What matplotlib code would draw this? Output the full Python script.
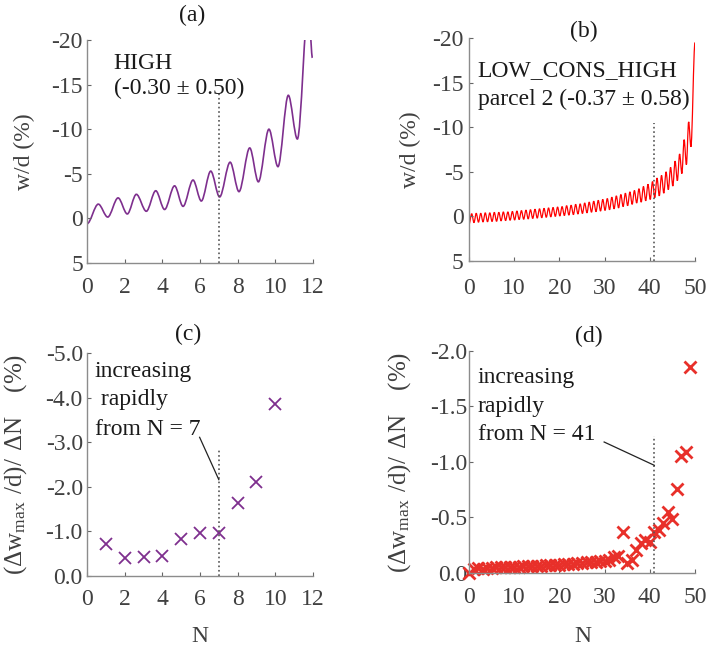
"""
Dent depth history and growth rate per cycle for two loading sequences
"""
import numpy as np
import matplotlib.pyplot as plt
from matplotlib.path import Path
from matplotlib.patches import PathPatch
from matplotlib.ticker import FormatStrFormatter, MultipleLocator

plt.rcParams['font.family'] = 'Liberation Serif'
plt.rcParams['mathtext.fontset'] = 'custom'
plt.rcParams['mathtext.rm'] = 'Liberation Serif'
plt.rcParams['axes.unicode_minus'] = False

PURPLE = '#7E2F8E'
RED = '#FF0000'
GREY = '#404040'

# (a) HIGH: extrema of w/d (%) against cycle
a_start = (0.0, 0.6)
a_peak_x = [0.6, 1.65, 2.62, 3.65, 4.65, 5.63, 6.57, 7.6, 8.64, 9.66, 10.69, 11.76]
a_peak_y = [-1.6, -2.3, -2.7, -3.1, -3.65, -4.3, -5.3, -6.3, -7.9, -10.0, -13.8, -24.0]
a_trough_x = [1.1, 2.14, 3.15, 4.12, 5.1, 6.07, 7.04, 8.07, 9.1, 10.14, 11.17]
a_trough_y = [-0.15, -0.5, -0.8, -1.0, -1.35, -1.95, -2.4, -3.0, -4.1, -5.8, -8.9]
a_end = (11.97, -18.0)

# (b) LOW_CONS_HIGH parcel 2: one peak and one trough per cycle 0..48
b_start = (0.0, 0.9)
b_peaks = [-0.3, -0.35, -0.35, -0.4, -0.4, -0.45, -0.45, -0.5, -0.5, -0.55,
           -0.6, -0.65, -0.7, -0.75, -0.8, -0.85, -0.9, -0.95, -1.0, -1.05,
           -1.1, -1.2, -1.25, -1.35, -1.4, -1.5, -1.6, -1.7, -1.8, -1.9,
           -2.0, -2.15, -2.3, -2.45, -2.6, -2.75, -2.9, -3.1, -3.35, -3.6,
           -3.9, -4.3, -4.6, -5.0, -5.5, -6.2, -7.0, -8.6, -10.6]
b_troughs = [0.7, 0.65, 0.62, 0.6, 0.57, 0.55, 0.5, 0.47, 0.43, 0.4,
             0.35, 0.32, 0.28, 0.23, 0.19, 0.15, 0.1, 0.05, 0.0, -0.05,
             -0.1, -0.15, -0.2, -0.27, -0.33, -0.4, -0.47, -0.53, -0.6, -0.67,
             -0.75, -0.85, -0.95, -1.1, -1.2, -1.35, -1.5, -1.6, -1.75, -1.9,
             -2.1, -2.3, -2.6, -3.0, -3.4, -4.0, -4.8, -5.8, -7.8]
b_end = (50.0, -19.5)

# (c) growth rate of max dent depth, HIGH
c_N = [1, 2, 3, 4, 5, 6, 7, 8, 9, 10]
c_rate = [-0.72, -0.40, -0.42, -0.46, -0.83, -0.96, -0.96, -1.63, -2.10, -3.86]

# (d) growth rate of max dent depth, LOW_CONS_HIGH parcel 2
d_N = list(range(50))
d_rate = [0.0, -0.04, -0.045, -0.04, -0.045, -0.045, -0.05, -0.05, -0.05, -0.055,
          -0.055, -0.055, -0.06, -0.06, -0.06, -0.065, -0.065, -0.07, -0.07, -0.075,
          -0.075, -0.08, -0.08, -0.085, -0.09, -0.09, -0.095, -0.10, -0.10, -0.105,
          -0.11, -0.12, -0.14, -0.15, -0.365, -0.09, -0.12, -0.21, -0.27, -0.30,
          -0.28, -0.37, -0.39, -0.45, -0.55, -0.49, -0.755, -1.05, -1.09, -1.86]


def smooth_path(xs, ys):
    # cubic segments with flat tangents at every turning point
    verts = [(xs[0], ys[0])]
    codes = [Path.MOVETO]
    for x0, y0, x1, y1 in zip(xs[:-1], ys[:-1], xs[1:], ys[1:]):
        dx = (x1 - x0) / 3.0
        verts += [(x0 + dx, y0), (x1 - dx, y1), (x1, y1)]
        codes += [Path.CURVE4] * 3
    return Path(verts, codes)


def interleave(start, px, py, tx, ty, end):
    xs, ys = [start[0]], [start[1]]
    for i in range(len(px)):
        xs.append(px[i]); ys.append(py[i])
        if i < len(tx):
            xs.append(tx[i]); ys.append(ty[i])
    xs.append(end[0]); ys.append(end[1])
    return xs, ys


def style_axes(ax, xpad, ypad):
    for side in ['top', 'right']:
        ax.spines[side].set_visible(False)
    for side in ['left', 'bottom']:
        ax.spines[side].set_color('#8c8c8c')
        ax.spines[side].set_linewidth(1.0)
    ax.tick_params(direction='in', length=3, width=0.8, color='#666666',
                   labelsize=17, labelcolor=GREY)
    ax.tick_params(axis='x', pad=xpad)
    ax.tick_params(axis='y', pad=ypad)


TXT = dict(fontsize=17, color='#1a1a1a')

fig = plt.figure(figsize=(7.12, 6.47), dpi=100)
ax_a = fig.add_axes([0.1222, 0.5935, 0.3174, 0.3447])
ax_b = fig.add_axes([0.6587, 0.5966, 0.3174, 0.3447])
ax_c = fig.add_axes([0.1222, 0.1097, 0.3174, 0.3447])
ax_d = fig.add_axes([0.6587, 0.1144, 0.3174, 0.3431])

# (a)
xs, ys = interleave(a_start, a_peak_x, a_peak_y, a_trough_x, a_trough_y, a_end)
ax_a.add_patch(PathPatch(smooth_path(xs, ys), fill=False, edgecolor=PURPLE, lw=1.2))
ax_a.plot([7, 7], [5, -14], ls=':', color='#555555', lw=1.2)
ax_a.set_xlim(0, 12)
ax_a.set_ylim(5, -20)
ax_a.xaxis.set_major_locator(MultipleLocator(2))
ax_a.yaxis.set_major_locator(MultipleLocator(5))
ax_a.text(1.4, -16.8, 'HIGH', **TXT)
ax_a.text(1.45, -13.9, '(-0.30 ± 0.50)', **TXT)
ax_a.set_ylabel('w/d (%)', fontsize=17, color=GREY)
ax_a.yaxis.set_label_coords(-0.23, 0.5)
ax_a.text(0.463, 1.112, '(a)', transform=ax_a.transAxes, ha='center', va='center', **TXT)
style_axes(ax_a, 10, 3)

# (b)
b_px = [k + 0.6 for k in range(len(b_peaks))]
b_tx = [k + 1.1 for k in range(len(b_troughs))]
xs, ys = interleave(b_start, b_px, b_peaks, b_tx, b_troughs, b_end)
ax_b.add_patch(PathPatch(smooth_path(xs, ys), fill=False, edgecolor=RED, lw=0.9))
ax_b.plot([41, 41], [5, -10.5], ls=':', color='#555555', lw=1.2)
ax_b.set_xlim(0, 50)
ax_b.set_ylim(5, -20)
ax_b.xaxis.set_major_locator(MultipleLocator(10))
ax_b.yaxis.set_major_locator(MultipleLocator(5))
ax_b.text(1.9, -15.7, 'LOW_CONS_HIGH', **TXT)
ax_b.text(1.9, -12.5, 'parcel 2 (-0.37 ± 0.58)', **TXT)
ax_b.set_ylabel('w/d (%)', fontsize=17, color=GREY)
ax_b.yaxis.set_label_coords(-0.212, 0.5)
ax_b.text(0.51, 1.028, '(b)', transform=ax_b.transAxes, ha='center', va='center', **TXT)
style_axes(ax_b, 12, 4)

rate_label = r'$\mathregular{(\Delta w_{max}\ /d)/\ \Delta N\ \ \ (\%)}$'

# (c)
ax_c.plot(c_N, c_rate, 'x', color=PURPLE, ms=9, mew=1.3, clip_on=False)
ax_c.plot([7, 7], [0, -2.83], ls=':', color='#555555', lw=1.2)
ax_c.plot([5.98, 7.0], [-3.11, -2.16], color='#222222', lw=0.9)
ax_c.text(0.42, -4.47, 'increasing', **TXT)
ax_c.text(0.45, -3.83, ' rapidly', **TXT)
ax_c.text(0.45, -3.16, 'from N = 7', **TXT)
ax_c.set_xlim(0, 12)
ax_c.set_ylim(0, -5)
ax_c.xaxis.set_major_locator(MultipleLocator(2))
ax_c.yaxis.set_major_locator(MultipleLocator(1))
ax_c.yaxis.set_major_formatter(FormatStrFormatter('%.1f'))
ax_c.set_ylabel(rate_label, fontsize=18, color=GREY)
ax_c.yaxis.set_label_coords(-0.257, 0.5)
ax_c.set_xlabel('N', fontsize=17, color=GREY)
ax_c.xaxis.set_label_coords(0.5, -0.225)
ax_c.text(0.448, 1.081, '(c)', transform=ax_c.transAxes, ha='center', va='center', **TXT)
style_axes(ax_c, 9.5, 3)

# (d)
ax_d.plot(d_N, d_rate, 'x', color='#E8302A', ms=8.5, mew=2.0, clip_on=False)
ax_d.plot([41, 41], [0, -1.23], ls=':', color='#555555', lw=1.2)
ax_d.plot([29.9, 41.0], [-1.18, -0.97], color='#222222', lw=0.9)
ax_d.text(1.9, -1.71, 'increasing', **TXT)
ax_d.text(1.9, -1.45, 'rapidly', **TXT)
ax_d.text(1.9, -1.20, 'from N = 41', **TXT)
ax_d.set_xlim(0, 50)
ax_d.set_ylim(0, -2)
ax_d.xaxis.set_major_locator(MultipleLocator(10))
ax_d.yaxis.set_major_locator(MultipleLocator(0.5))
ax_d.yaxis.set_major_formatter(FormatStrFormatter('%.1f'))
ax_d.set_ylabel(rate_label, fontsize=18, color=GREY)
ax_d.yaxis.set_label_coords(-0.249, 0.5)
ax_d.set_xlabel('N', fontsize=17, color=GREY)
ax_d.xaxis.set_label_coords(0.503, -0.24)
ax_d.text(0.53, 1.064, '(d)', transform=ax_d.transAxes, ha='center', va='center', **TXT)
style_axes(ax_d, 10, 1)

fig.savefig('out.png', dpi=100)
